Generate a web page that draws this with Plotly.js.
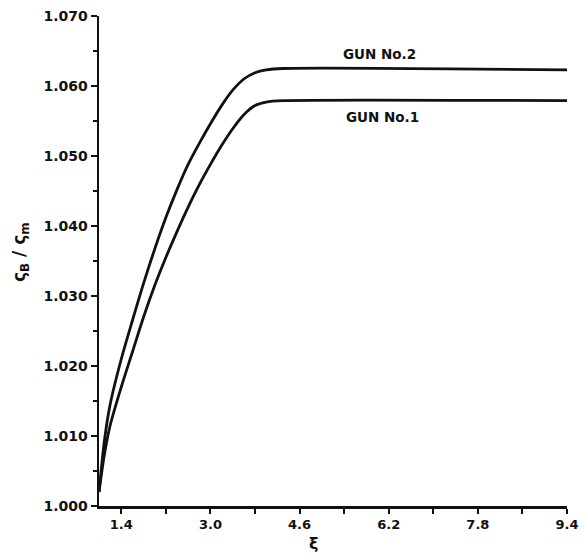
<!DOCTYPE html>
<html>
<head>
<meta charset="utf-8">
<script src="https://cdn.plot.ly/plotly-3.0.1.min.js"></script>
<style>html,body{margin:0;padding:0;background:#fff;}#chart{width:585px;height:556px;}</style>
</head>
<body>
<div id="chart"></div>
<script>
// ξ values and ratio values
const xi   = [1.0, 1.1, 1.2, 1.4, 1.6, 1.8, 2.0, 2.2, 2.4, 2.6, 2.8, 3.0, 3.2, 3.4, 3.6, 3.8, 4.0, 4.3, 9.4];
const gun2 = [1.002, 1.0095, 1.0145, 1.021, 1.0265, 1.0318, 1.0367, 1.0412, 1.0452, 1.0488, 1.0518, 1.0546, 1.0572, 1.0594, 1.0610, 1.0619, 1.0623, 1.0625, 1.0623];
const gun1 = [1.002, 1.0075, 1.0115, 1.017, 1.022, 1.027, 1.0315, 1.0355, 1.0392, 1.0427, 1.0459, 1.0488, 1.0515, 1.0539, 1.0559, 1.0572, 1.0577, 1.0579, 1.0579];
const seriesNames = ["GUN No.2", "GUN No.1"];
const xTickVals = [1.4, 3.0, 4.6, 6.2, 7.8, 9.4];
const xTickText = ["1.4", "3.0", "4.6", "6.2", "7.8", "9.4"];
const yTickVals = [1.000, 1.010, 1.020, 1.030, 1.040, 1.050, 1.060, 1.070];
const yTickText = ["1.000", "1.010", "1.020", "1.030", "1.040", "1.050", "1.060", "1.070"];

const traces = [
  {x: xi, y: gun2, name: seriesNames[0], mode: "lines", line: {color: "#111", width: 2.8, shape: "spline", smoothing: 0.8}},
  {x: xi, y: gun1, name: seriesNames[1], mode: "lines", line: {color: "#111", width: 2.8, shape: "spline", smoothing: 0.8}}
];
const pw = 585 - 99 - 18, ph = 556 - 16 - 50;
const layout = {
  width: 585, height: 556,
  margin: {l: 99, r: 18, t: 16, b: 50},
  paper_bgcolor: "#fff", plot_bgcolor: "#fff",
  showlegend: false,
  font: {family: "DejaVu Sans", color: "#111", size: 13},
  xaxis: {
    range: [1.0, 9.4], showgrid: false, zeroline: false,
    showline: true, linecolor: "#111", linewidth: 2.5,
    ticks: "outside", ticklen: 5, tickwidth: 2, tickcolor: "#111",
    tickvals: xTickVals, ticktext: xTickText,
    tickfont: {family: "DejaVu Sans", size: 13, color: "#111", weight: "bold"},
    minor: {dtick: 0.8, tick0: 1.4, ticks: "outside", ticklen: 5, tickwidth: 2, tickcolor: "#111", showgrid: false}
  },
  yaxis: {
    range: [1.000, 1.070], showgrid: false, zeroline: false,
    showline: true, linecolor: "#111", linewidth: 2.5,
    ticks: "outside", ticklen: 6, tickwidth: 2, tickcolor: "#111",
    tickvals: yTickVals, ticktext: yTickText,
    tickfont: {family: "DejaVu Sans", size: 14, color: "#111", weight: "bold"},
    minor: {dtick: 0.005, tick0: 1.0, ticks: "outside", ticklen: 4, tickwidth: 2, tickcolor: "#111", showgrid: false}
  },
  annotations: [
    {x: 5.35, y: 1.0632, xref: "x", yref: "y", text: "<b>GUN No.2</b>", showarrow: false, xanchor: "left", yanchor: "bottom", font: {family: "DejaVu Sans", size: 13.5, color: "#111"}},
    {x: 5.4, y: 1.0570, xref: "x", yref: "y", text: "<b>GUN No.1</b>", showarrow: false, xanchor: "left", yanchor: "top", font: {family: "DejaVu Sans", size: 13.5, color: "#111"}},
    {x: (313 - 99) / pw, y: (556 - 50 - 543) / ph, xref: "paper", yref: "paper", xanchor: "center", yanchor: "middle", text: "<b>ξ</b>", showarrow: false, font: {family: "DejaVu Sans", size: 16, color: "#111"}},
    {x: (20 - 99) / pw, y: (556 - 50 - 252) / ph, xref: "paper", yref: "paper", xanchor: "center", yanchor: "middle", text: "<b>ς<sub>B</sub> / ς<sub>m</sub></b>", showarrow: false, textangle: -90, font: {family: "DejaVu Sans", size: 17, color: "#111"}}
  ]
};
Plotly.newPlot("chart", traces, layout, {displayModeBar: false, staticPlot: true});
</script>
</body>
</html>
